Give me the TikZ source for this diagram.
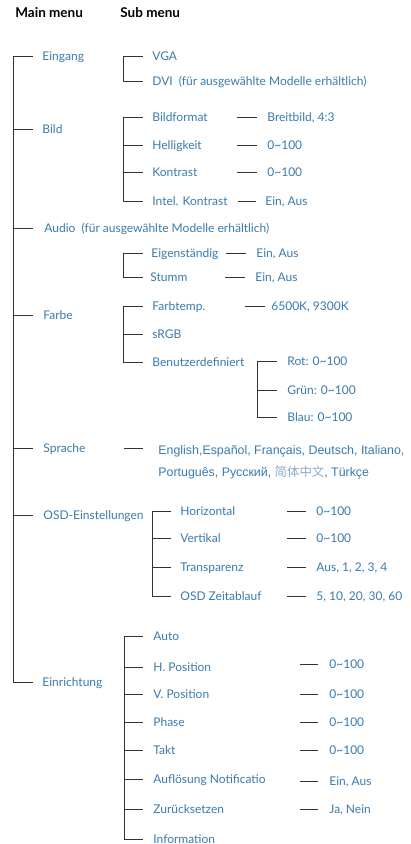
\documentclass[tikz,border=0pt]{standalone}
\usepackage{fontspec}
\setmainfont{Lato}
\newfontfamily\langfont{Liberation Sans}
\newfontfamily\cjkfont{Noto Sans CJK SC}
\definecolor{menublue}{RGB}{58,122,172}
\definecolor{cjkblue}{RGB}{140,172,200}

\begin{document}
\begin{tikzpicture}[
  x=1pt, y=-1pt,
  line width=0.8pt,
  font=\fontsize{12}{14}\selectfont,
  item/.style={
     anchor=west,
     inner sep=0pt,
     text=menublue,
     text height=8pt,
     text depth=0pt,
  },
  head/.style={
     anchor=west,
     inner sep=0pt,
     font=\bfseries\fontsize{13.5}{15}\selectfont,
  },
  wire/.style={draw=black!80},
]
   \useasboundingbox (0,0) rectangle (410,844);

   \node[head] (mainhd) at (15,13) {Main menu};
   \node[head] (subhd) at (120,13) {Sub menu};

   % main menu
   \coordinate (trunk) at (13,0);
   \node[item] (eingang) at (42,56) {Eingang};
   \node[item] (bild) at (42,129) {Bild};
   \node[item] (audio) at (44,228) {Audio\ \ (für ausgewählte Modelle erhältlich)};
   \node[item] (farbe) at (43,315) {Farbe};
   \node[item] (sprache) at (43,448) {Sprache};
   \node[item] (osd) at (43,515) {OSD-Einstellungen};
   \node[item] (einr) at (42,682) {Einrichtung};
   \draw[wire] (eingang -| trunk) -- (einr -| trunk);
   \foreach \n in {eingang,bild,audio,farbe,sprache,osd,einr}
      \draw[wire] (\n -| trunk) -- ++(20,0);

   % Eingang
   \coordinate (br1) at (123,0);
   \node[item] (vga) at (152,56) {VGA};
   \node[item] (dvi) at (152,81) {DVI\ \ (für ausgewählte Modelle erhältlich)};
   \draw[wire] (vga -| br1) -- (dvi -| br1);
   \foreach \n in {vga,dvi}
      \draw[wire] (\n -| br1) -- ++(20,0);

   % Bild
   \node[item] (bformat) at (152,117) {Bildformat};
   \node[item] (hell) at (152,145) {Helligkeit};
   \node[item] (kontr) at (152,172) {Kontrast};
   \node[item] (ikontr) at (152,201) {Intel. Kontrast};
   \node[item] (bformatv) at (267,117) {Breitbild, 4:3};
   \node[item] (hellv) at (267,145) {0\textasciitilde100};
   \node[item] (kontrv) at (267,172) {0\textasciitilde100};
   \node[item] (ikontrv) at (265,201) {Ein, Aus};
   \draw[wire] (bformat -| br1) -- (ikontr -| br1);
   \foreach \n in {bformat,hell,kontr,ikontr}
      \draw[wire] (\n -| br1) -- ++(20,0);
   \foreach \n in {bformatv,hellv,kontrv}
      \draw[wire] ([xshift=-30]\n.west) -- ([xshift=-10]\n.west);
   \draw[wire] ([xshift=-27]ikontrv.west) -- ([xshift=-9]ikontrv.west);

   % Audio
   \node[item] (eigen) at (151,253) {Eigenständig};
   \node[item] (stumm) at (150,277) {Stumm};
   \node[item] (eigenv) at (256,253) {Ein, Aus};
   \node[item] (stummv) at (255,277) {Ein, Aus};
   \draw[wire] (eigen -| br1) -- (stumm -| br1);
   \foreach \n in {eigen,stumm}
      \draw[wire] (\n -| br1) -- ++(20,0);
   \foreach \n in {eigenv,stummv}
      \draw[wire] ([xshift=-30]\n.west) -- ([xshift=-10]\n.west);

   % Farbe
   \node[item] (ftemp) at (152,306) {Farbtemp.};
   \node[item] (srgb) at (152,334) {sRGB};
   \node[item] (benutz) at (152,362) {Benutzerdefiniert};
   \node[item] (ftempv) at (271,306) {6500K, 9300K};
   \draw[wire] (ftemp -| br1) -- (benutz -| br1);
   \foreach \n in {ftemp,srgb,benutz}
      \draw[wire] (\n -| br1) -- ++(20,0);
   \draw[wire] ([xshift=-26]ftempv.west) -- ([xshift=-6]ftempv.west);

   \coordinate (br2) at (257,0);
   \node[item] (rot) at (287,361) {Rot: 0\textasciitilde100};
   \node[item] (gruen) at (287,390) {Grün: 0\textasciitilde100};
   \node[item] (blau) at (287,417) {Blau: 0\textasciitilde100};
   \draw[wire] (rot -| br2) -- (blau -| br2);
   \foreach \n in {rot,gruen,blau}
      \draw[wire] (\n -| br2) -- ++(20,0);

   % Sprache
   \node[item,font=\langfont\fontsize{12.4}{14}\selectfont] (lang1) at (158,450)
      {English,Español, Français, Deutsch, Italiano,};
   \node[item,font=\langfont\fontsize{12.4}{14}\selectfont] (lang2) at (158,472)
      {Português, Русский, \textcolor{cjkblue}{\cjkfont 简体中文}, Türkçe};
   \draw[wire] ([xshift=-34]lang1.west |- sprache) -- ([xshift=-15]lang1.west |- sprache);

   % OSD-Einstellungen
   \coordinate (br3) at (152,0);
   \node[item] (horiz) at (180,511) {Horizontal};
   \node[item] (vert) at (180,538) {Vertikal};
   \node[item] (transp) at (180,567) {Transparenz};
   \node[item] (zeit) at (180,596) {OSD Zeitablauf};
   \node[item] (horizv) at (316,511) {0\textasciitilde100};
   \node[item] (vertv) at (316,538) {0\textasciitilde100};
   \node[item] (transpv) at (316,567) {Aus, 1, 2, 3, 4};
   \node[item] (zeitv) at (316,596) {5, 10, 20, 30, 60};
   \draw[wire] (horiz -| br3) -- (zeit -| br3);
   \foreach \n in {horiz,vert,transp,zeit}
      \draw[wire] (\n -| br3) -- ++(19,0);
   \foreach \n in {horizv,vertv,transpv,zeitv}
      \draw[wire] ([xshift=-29]\n.west) -- ([xshift=-10]\n.west);

   % Einrichtung
   \coordinate (br4) at (124,0);
   \node[item] (auto) at (153,636) {Auto};
   \node[item] (hpos) at (153,667) {H. Position};
   \node[item] (vpos) at (153,694) {V. Position};
   \node[item] (phase) at (153,722) {Phase};
   \node[item] (takt) at (153,750) {Takt};
   \node[item] (aufl) at (153,779) {Auflösung Notificatio};
   \node[item] (reset) at (153,809) {Zurücksetzen};
   \node[item] (info) at (153,839) {Information};
   \node[item] (hposv) at (329,664) {0\textasciitilde100};
   \node[item] (vposv) at (329,694) {0\textasciitilde100};
   \node[item] (phasev) at (329,722) {0\textasciitilde100};
   \node[item] (taktv) at (329,750) {0\textasciitilde100};
   \node[item] (auflv) at (329,781) {Ein, Aus};
   \node[item] (resetv) at (329,809) {Ja, Nein};
   \draw[wire] (auto -| br4) -- (info -| br4);
   \foreach \n in {auto,hpos,vpos,phase,takt,aufl,reset,info}
      \draw[wire] (\n -| br4) -- ++(19,0);
   \foreach \n in {hposv,vposv,phasev,taktv,auflv,resetv}
      \draw[wire] ([xshift=-29]\n.west) -- ([xshift=-11]\n.west);
\end{tikzpicture}
\end{document}
